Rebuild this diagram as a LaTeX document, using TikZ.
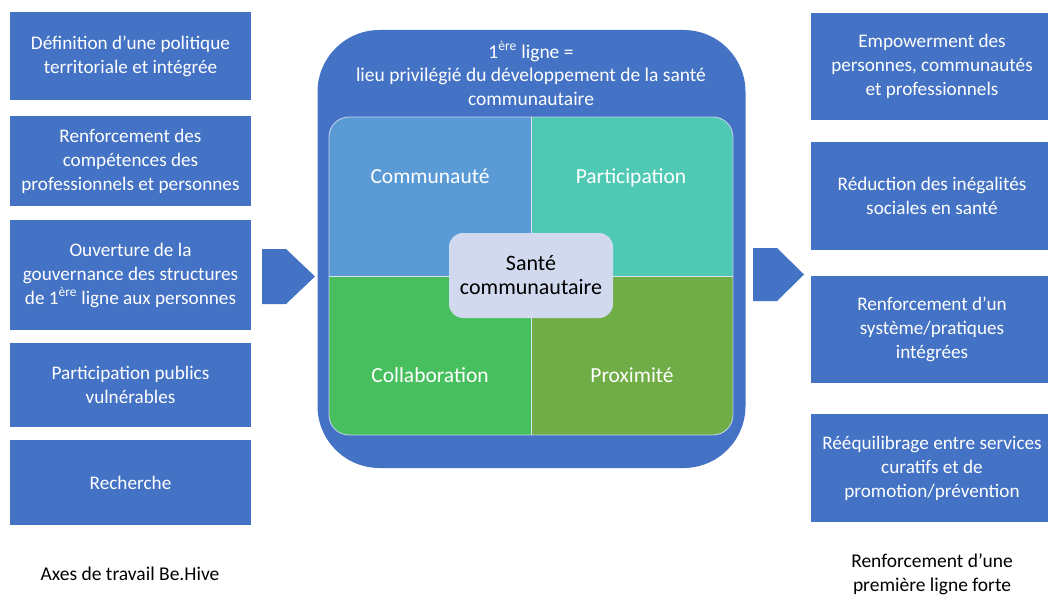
\documentclass[tikz,border=0pt]{standalone}
\usepackage{fontspec}
\setmainfont{Carlito}
\definecolor{boxblue}{HTML}{4472C4}
\definecolor{qcomm}{HTML}{5B9BD5}
\definecolor{qpart}{HTML}{4FC9B3}
\definecolor{qcoll}{HTML}{47BF5E}
\definecolor{qprox}{HTML}{70AD47}
\definecolor{cfill}{HTML}{D0D9EE}
\tikzset{
  box/.style={fill=boxblue, text=white, align=center, inner sep=0pt,
    font=\fontsize{19.2}{24}\selectfont},
  lbox/.style={box, minimum width=241pt},
  rbox/.style={box, minimum width=242pt},
  qlabel/.style={text=white, font=\fontsize{21.5}{25}\selectfont, inner sep=0pt, anchor=base},
  caption/.style={text=black, align=center, inner sep=0pt, font=\fontsize{19.5}{24}\selectfont},
  chevron/.style={fill=boxblue},
}
\begin{document}
\begin{tikzpicture}[x=1pt,y=-1pt]
\useasboundingbox[fill=white] (0,0) rectangle (1048,599);
\clip (0,0) rectangle (1048,599);
% left boxes
\node[lbox, minimum height=88pt] (l1) at (130.5,56) {Définition d’une politique\\territoriale et intégrée};
\node[lbox, minimum height=90pt] (l2) at (130.5,161) {Renforcement des\\compétences des\\professionnels et personnes};
\node[lbox, minimum height=110pt] (l3) at (130.5,275) {Ouverture de la\\gouvernance des structures\\de 1\textsuperscript{ère} ligne aux personnes};
\node[lbox, minimum height=84pt] (l4) at (130.5,385) {Participation publics\\vulnérables};
\node[lbox, minimum height=85pt] (l5) at (130.5,482.5) {Recherche};
% right boxes
\node[rbox, minimum height=107pt] (r1) at (932,66.5) {Empowerment des\\personnes, communautés\\et professionnels};
\node[rbox, minimum height=108pt] (r2) at (932,196) {Réduction des inégalités\\sociales en santé};
\node[rbox, minimum height=107pt] (r3) at (932,329.5) {Renforcement d’un\\système/pratiques\\intégrées};
\node[rbox, minimum height=108pt] (r4) at (932,468) {Rééquilibrage entre services\\curatifs et de\\promotion/prévention};
% arrows
\coordinate (la1) at (262,249); \coordinate (la2) at (286,249); \coordinate (la3) at (315,276.5);
\coordinate (la4) at (286,304); \coordinate (la5) at (262,304);
\fill[chevron] (la1) -- (la2) -- (la3) -- (la4) -- (la5) -- cycle;
\coordinate (ra1) at (753,248); \coordinate (ra2) at (777,248); \coordinate (ra3) at (804,274.5);
\coordinate (ra4) at (777,301); \coordinate (ra5) at (753,301);
\fill[chevron] (ra1) -- (ra2) -- (ra3) -- (ra4) -- (ra5) -- cycle;
% centre
\node[fill=boxblue, rounded corners=62pt, minimum width=428pt, minimum height=438pt, inner sep=0pt] (outer) at (531.5,249) {};
\node[text=white, align=center, inner sep=0pt, font=\fontsize{19.5}{23.5}\selectfont] (title) at (531,73.5)
  {1\textsuperscript{ère} ligne =\\lieu privilégié du développement de la santé\\communautaire};
\begin{scope}
  \clip[rounded corners=20pt] (329,117) rectangle (733,435);
  \fill[qcomm] (329,117) rectangle (531,276);
  \fill[qpart] (531,117) rectangle (733,276);
  \fill[qcoll] (329,276) rectangle (531,435);
  \fill[qprox] (531,276) rectangle (733,435);
  \draw[white!80!boxblue, line width=1pt] (531,117) -- (531,435);
  \draw[white!80!boxblue, line width=1pt] (329,276) -- (733,276);
\end{scope}
\draw[white!70!boxblue, line width=0.8pt, rounded corners=20pt] (329,117) rectangle (733,435);
\node[qlabel] (q1) at (430,183) {Communauté};
\node[qlabel] (q2) at (631,183) {Participation};
\node[qlabel] (q3) at (430,382) {Collaboration};
\node[qlabel] (q4) at (632,382) {Proximité};
\node[fill=cfill, rounded corners=14pt, minimum width=164pt, minimum height=85pt, inner sep=0pt, align=center,
  font=\fontsize{22}{24}\selectfont] (sante) at (531,275.5) {Santé\\communautaire};
% captions
\node[caption] (capl) at (130,574) {Axes de travail Be.Hive};
\node[caption] (capr) at (932,574) {Renforcement d’une\\première ligne forte};
\end{tikzpicture}
\end{document}
